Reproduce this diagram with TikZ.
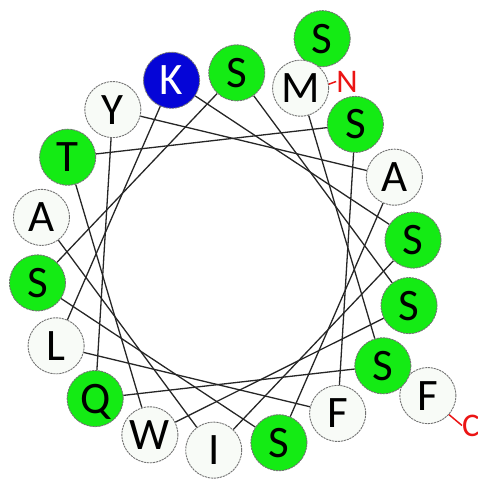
\documentclass[tikz,border=0pt]{standalone}
\usepackage{fontspec}
\setmainfont{Carlito}
\definecolor{wgreen}{RGB}{20,235,20}
\definecolor{wblue}{RGB}{5,5,215}
\definecolor{wwhite}{RGB}{248,251,247}
\definecolor{wred}{RGB}{235,20,20}
\begin{document}
\begin{tikzpicture}[x=1pt,y=1pt,
  res/.style={circle, minimum size=56pt, inner sep=0pt, draw=black!55, line width=0.9pt,
    dash pattern=on 2.2pt off 0.8pt, text height=29pt, text depth=0pt,
    font=\fontsize{45}{45}\selectfont},
  hyd/.style={res, fill=wgreen},
  pol/.style={res, fill=wwhite},
  basic/.style={res, fill=wblue, text=white},
  link/.style={line width=1.3pt, black!85},
  term/.style={text=wred, inner sep=0pt, font=\fontsize{33}{33}\selectfont},
  termline/.style={wred, line width=1.5pt},
]
\clip (-225.25,261.5) rectangle (252.75,-219.5);
% outer ring (residues 19, 20)
\node[hyd] (r19) at ({66.5-100*18}:243) {S};
\node[pol] (r20) at ({66.5-100*19}:243) {F};
% inner wheel (residues 1-18)
\foreach \l/\s [count=\i] in {M/pol,S/hyd,Q/hyd,Y/pol,A/pol,S/hyd,S/hyd,S/hyd,S/hyd,W/pol,T/hyd,S/hyd,F/pol,L/pol,K/basic,S/hyd,I/pol,A/pol}
  \node[\s] (r\i) at ({66.5-100*(\i-1)}:189) {\l};
% connectors between consecutive residues
\foreach \i [evaluate=\i as \j using int(\i+1)] in {1,...,17}
  \draw[link] (r\i) -- (r\j);
% termini
\node[term] (nlab) at (121.75,180) {N};
\draw[termline] (r1.8) -- (nlab.west);
\node[term, anchor=west] (clab) at (236.75,-164) {C};
\draw[termline] (r20.-42) -- (clab.west);
\end{tikzpicture}
\end{document}
